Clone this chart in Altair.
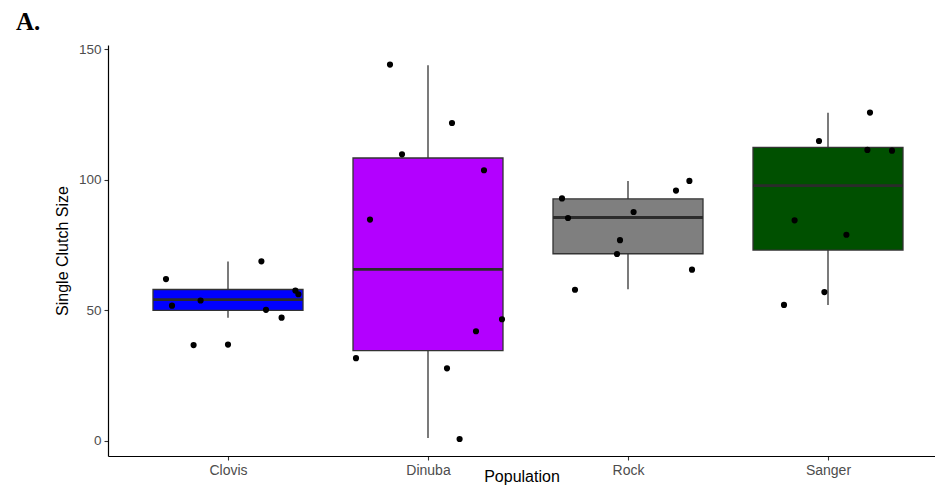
import json
import altair as alt
import pandas as pd

# ---------------- data ----------------
populations = ["Clovis", "Dinuba", "Rock", "Sanger"]
fill_colors = ["#0000FF", "#B300FF", "#7F7F7F", "#005000"]
panel_label = "A."

clovis_sizes = [61.9, 51.7, 53.7, 36.6, 36.8, 68.7, 50.1, 47.1, 57.5, 56.1]
clovis_jitter = [-0.31, -0.28, -0.137, -0.172, 0.0, 0.167, 0.19, 0.268, 0.337, 0.352]

dinuba_sizes = [144.1, 121.7, 109.7, 103.6, 84.7, 46.5, 41.9, 31.6, 27.7, 0.6]
dinuba_jitter = [-0.19, 0.12, -0.13, 0.28, -0.29, 0.37, 0.24, -0.36, 0.095, 0.158]

rock_sizes = [92.8, 85.3, 87.6, 95.8, 99.5, 76.8, 71.5, 65.5, 57.8]
rock_jitter = [-0.33, -0.30, 0.028, 0.24, 0.307, -0.04, -0.055, 0.32, -0.265]

sanger_sizes = [125.7, 114.8, 111.4, 111.1, 84.4, 78.9, 56.9, 52.0]
sanger_jitter = [0.21, -0.045, 0.197, 0.32, -0.167, 0.092, -0.018, -0.22]

whisker_low = [47.1, 1.0, 58.0, 52.0]
quartile_1 = [49.9, 34.5, 71.6, 73.0]
medians = [54.0, 65.6, 85.5, 97.7]
quartile_3 = [57.9, 108.3, 92.6, 112.4]
whisker_high = [68.6, 143.8, 99.5, 125.6]

y_ticks = [0, 50, 100, 150]

# ---------------- tables ----------------
box_df = pd.DataFrame({
    "Population": populations,
    "pos": list(range(len(populations))),
    "lo": whisker_low,
    "q1": quartile_1,
    "med": medians,
    "q3": quartile_3,
    "hi": whisker_high,
})

point_rows = []
for i, (sizes, jit) in enumerate([
    (clovis_sizes, clovis_jitter),
    (dinuba_sizes, dinuba_jitter),
    (rock_sizes, rock_jitter),
    (sanger_sizes, sanger_jitter),
]):
    for s, j in zip(sizes, jit):
        point_rows.append({"Population": populations[i], "pos": i, "jitter": j, "size": s})
points_df = pd.DataFrame(point_rows)

HALF = 0.375  # half box width in category units

xscale = alt.Scale(domain=[-0.6, 3.535], nice=False, zero=False)
yscale = alt.Scale(domain=[-5.9, 151.6], nice=False, zero=False)

label_expr = f"{json.dumps(populations)}[datum.value]"

x_axis = alt.Axis(
    values=list(range(len(populations))), labelExpr=label_expr, title="Population",
    grid=False, labelFontSize=14, labelPadding=3, titleFontSize=16,
    titleBaseline="alphabetic", titleY=25.5,
)
y_axis = alt.Axis(
    values=y_ticks, title="Single Clutch Size", grid=False, labelFontSize=13.5,
    labelPadding=3, titlePadding=8, titleFontSize=16,
)

base_box = alt.Chart(box_df).transform_calculate(
    xa=f"datum.pos - {HALF}", xb=f"datum.pos + {HALF}"
)

whiskers = base_box.mark_rule(color="#333333", strokeWidth=1.3).encode(
    x=alt.X("pos:Q", scale=xscale, axis=x_axis),
    y=alt.Y("lo:Q", scale=yscale, axis=y_axis),
    y2="hi:Q",
)

boxes = base_box.mark_rect(stroke="#333333", strokeWidth=1.3).encode(
    x=alt.X("xa:Q", scale=xscale, axis=x_axis),
    x2="xb:Q",
    y=alt.Y("q1:Q", scale=yscale, axis=y_axis),
    y2="q3:Q",
    color=alt.Color("Population:N", scale=alt.Scale(domain=populations, range=fill_colors), legend=None),
)

median_lines = base_box.mark_rule(color="#2b2b2b", strokeWidth=2.8).encode(
    x=alt.X("xa:Q", scale=xscale, axis=x_axis),
    x2="xb:Q",
    y=alt.Y("med:Q", scale=yscale, axis=y_axis),
)

points = alt.Chart(points_df).transform_calculate(
    xj="datum.pos + datum.jitter"
).mark_circle(size=38, color="black", opacity=1).encode(
    x=alt.X("xj:Q", scale=xscale, axis=x_axis),
    y=alt.Y("size:Q", scale=yscale, axis=y_axis),
)

panel = alt.Chart(pd.DataFrame({"label": [panel_label]})).mark_text(
    font="Liberation Serif", fontSize=25, fontWeight="bold", align="left",
    baseline="alphabetic", color="black",
).encode(text="label:N", x=alt.value(-92), y=alt.value(-15))

chart = alt.layer(whiskers, boxes, median_lines, points, panel).properties(
    width=827,
    height=411,
    autosize=alt.AutoSizeParams(type="none"),
    padding={"left": 100, "top": 37, "right": 0, "bottom": 29},
).configure_view(stroke=None).configure_axis(
    domainColor="black", domainWidth=1.2, tickColor="#333333", tickSize=4, tickWidth=1.1,
    labelFont="Liberation Sans", labelColor="#4D4D4D",
    titleFont="Liberation Sans", titleColor="black", titleFontWeight="normal",
)

chart.save("out.html", embed_options={"renderer": "svg", "actions": False})
